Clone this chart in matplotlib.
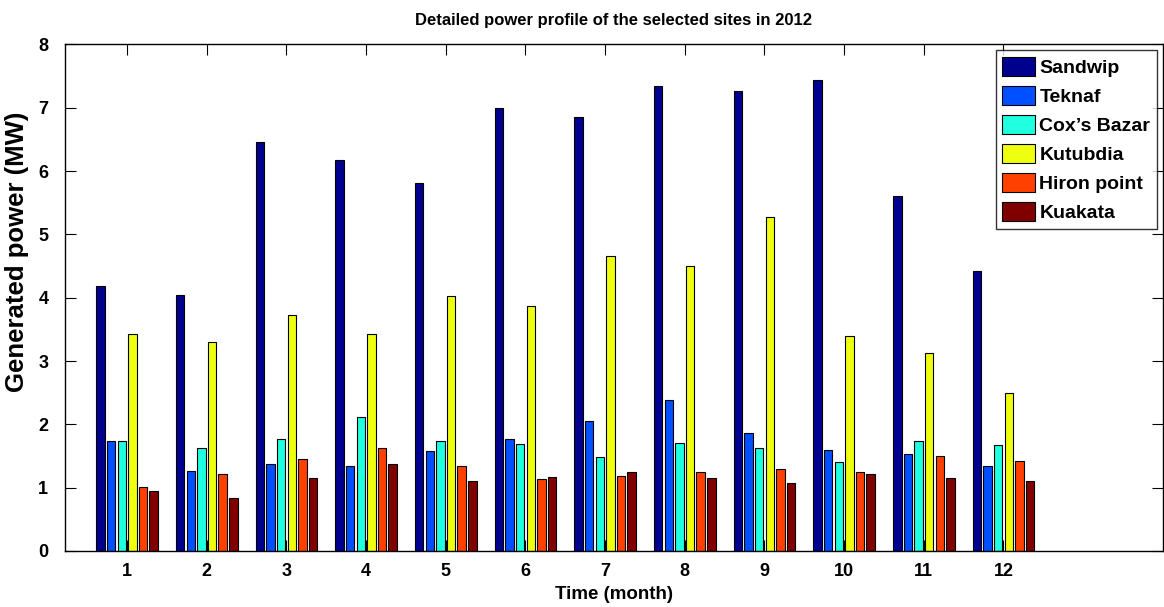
import numpy as np
import matplotlib
matplotlib.use("Agg")
import matplotlib.pyplot as plt

# monthly generated power (MW) per site
months = list(range(1, 13))
sites = ["Sandwip", "Teknaf", "Cox\u2019s Bazar", "Kutubdia", "Hiron point", "Kuakata"]

sandwip = [4.19, 4.05, 6.46, 6.18, 5.81, 6.99, 6.85, 7.35, 7.26, 7.44, 5.60, 4.43]
teknaf = [1.73, 1.27, 1.37, 1.35, 1.58, 1.77, 2.05, 2.39, 1.86, 1.60, 1.53, 1.35]
coxs_bazar = [1.73, 1.63, 1.77, 2.11, 1.74, 1.69, 1.48, 1.71, 1.63, 1.40, 1.74, 1.68]
kutubdia = [3.43, 3.30, 3.72, 3.43, 4.03, 3.87, 4.66, 4.50, 5.27, 3.39, 3.12, 2.50]
hiron_point = [1.01, 1.22, 1.45, 1.63, 1.35, 1.14, 1.19, 1.24, 1.29, 1.25, 1.50, 1.42]
kuakata = [0.95, 0.84, 1.16, 1.37, 1.11, 1.17, 1.24, 1.16, 1.08, 1.22, 1.16, 1.11]

series = [sandwip, teknaf, coxs_bazar, kutubdia, hiron_point, kuakata]
colors = ["#00008F", "#0050FF", "#20FFDF", "#EFFF10", "#FF4000", "#800000"]

plt.rcParams["font.family"] = ["Liberation Sans", "DejaVu Sans"]
plt.rcParams["font.weight"] = "bold"

fig = plt.figure(figsize=(11.64, 6.07), dpi=100)
ax = fig.add_axes([0.0558, 0.0923, 0.9432, 0.8344])

# MATLAB-style grouped bars: group width 0.8, each bar 80% of its slot
n = len(series)
slot = 0.8 / n
x = np.array(months, dtype=float)
for i, (vals, c, name) in enumerate(zip(series, colors, sites)):
    ax.bar(x + (i - (n - 1) / 2) * slot, vals, width=slot * 0.8,
           color=c, edgecolor="black", linewidth=0.8, label=name)

ax.set_xlim(0.22, 14.0)
ax.set_ylim(0, 8)
ax.set_xticks(months)
ax.set_yticks(range(0, 9))

ax.tick_params(direction="in", length=8, width=0.8, top=True, right=True,
               labelsize=13)
ax.tick_params(axis="x", pad=9)
ax.tick_params(axis="y", pad=12)
for lab in ax.get_xticklabels() + ax.get_yticklabels():
    lab.set_fontweight("bold")
for s in ax.spines.values():
    s.set_linewidth(1.0)

ax.set_title("Detailed power profile of the selected sites in 2012",
             fontsize=12, fontweight="bold", pad=14)
ax.set_xlabel("Time (month)", fontsize=13.5, fontweight="bold", labelpad=4)
ax.set_ylabel("Generated power (MW)", fontsize=18.5, fontweight="bold")
# label sits above the axes centre in the original
ax.yaxis.set_label_coords(-0.033, 0.59)

leg = ax.legend(loc="upper right", fontsize=14, frameon=True, fancybox=False,
                edgecolor="black", handlelength=1.7, handleheight=1.15,
                handletextpad=0.2, labelspacing=0.45, borderpad=0.35,
                borderaxespad=0.3)
leg.get_frame().set_linewidth(1.0)
for t in leg.get_texts():
    t.set_fontweight("bold")

fig.savefig("out.png", dpi=100)
